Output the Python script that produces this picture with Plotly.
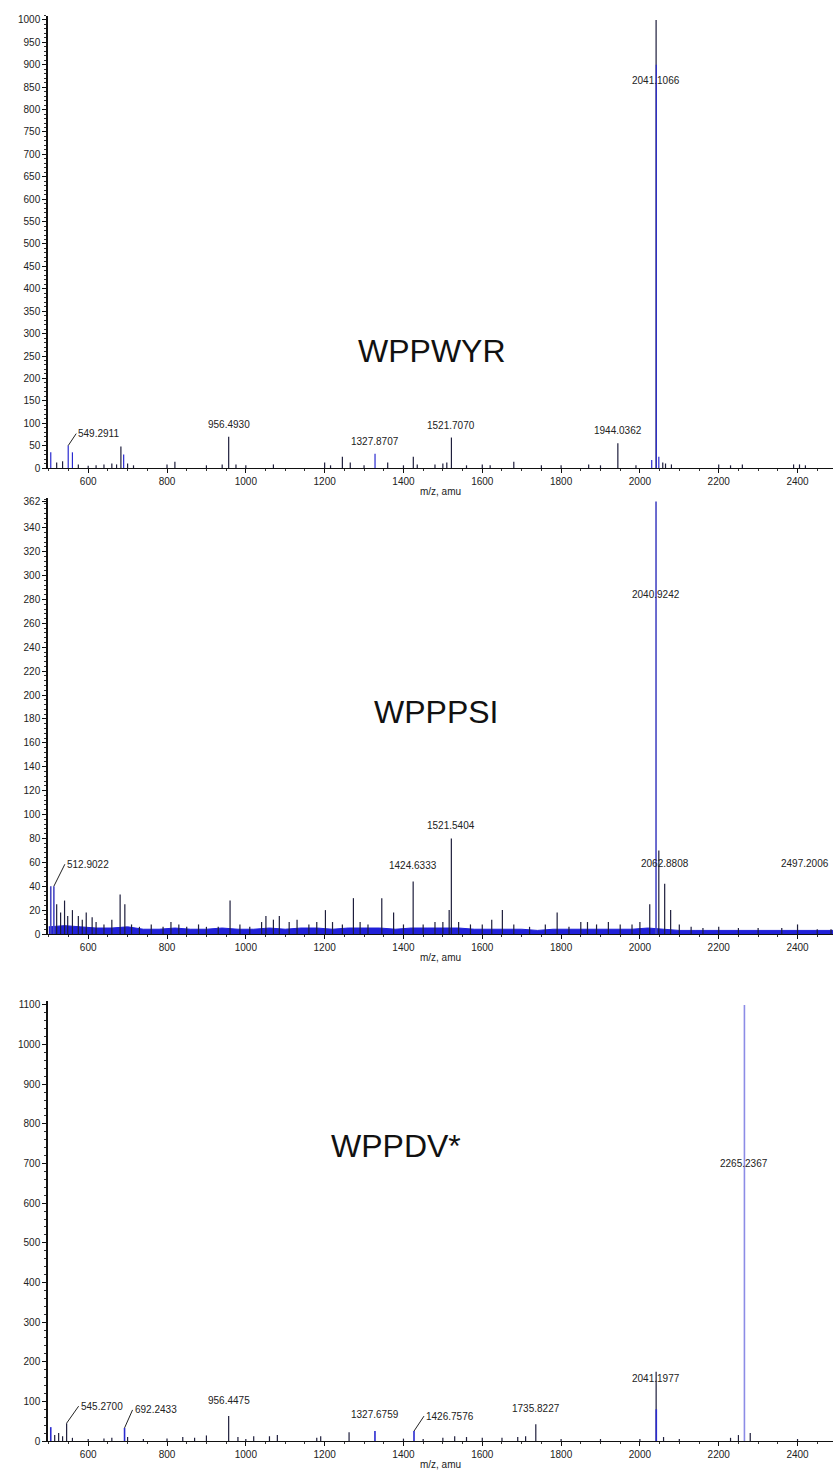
import plotly.graph_objects as go

# ---------------- data ----------------
mz_ticks = [600, 800, 1000, 1200, 1400, 1600, 1800, 2000, 2200, 2400]

# Panel 1 : WPPWYR
p1_mz_dark = [520, 535, 575, 600, 620, 640, 660, 672, 683, 700, 715, 800, 820, 900, 940,
              956.4930, 975, 1000, 1070, 1200, 1215, 1245, 1265, 1300, 1360, 1400, 1425,
              1435, 1480, 1500, 1510, 1521.7070, 1560, 1600, 1620, 1680, 1750, 1800, 1870,
              1900, 1944.0362, 1990, 2041.1066, 2058, 2065, 2080, 2200, 2230, 2260, 2390,
              2405, 2420]
p1_int_dark = [12, 15, 8, 5, 6, 8, 10, 8, 48, 10, 6, 8, 14, 6, 8,
               70, 8, 6, 8, 12, 6, 25, 12, 6, 12, 6, 25,
               8, 8, 10, 12, 68, 6, 8, 6, 14, 6, 6, 8,
               6, 55, 6, 1000, 12, 10, 8, 8, 6, 8, 8,
               8, 6]
p1_mz_blue = [505, 549.2911, 560, 690, 1327.8707, 2030, 2041.6, 2048]
p1_int_blue = [35, 50, 35, 30, 32, 18, 900, 25]

# Panel 2 : WPPPSI
p2_mz_dark = [520, 530, 540, 548, 560, 575, 585, 595, 610, 620, 640, 660, 681, 693, 710,
              730, 760, 790, 810, 830, 850, 880, 900, 930, 960, 985, 1010, 1040, 1051,
              1070, 1085, 1110, 1130, 1160, 1180, 1202, 1220, 1245, 1273, 1290, 1310,
              1345, 1375, 1400, 1424.6333, 1450, 1480, 1500, 1516, 1521.5404, 1540, 1570,
              1600, 1624, 1651, 1680, 1720, 1760, 1790, 1820, 1850, 1867, 1890, 1920,
              1950, 1980, 2000, 2025, 2048, 2062.8808, 2078, 2100, 2130, 2160, 2200,
              2250, 2300, 2360, 2400, 2450, 2485]
p2_int_dark = [25, 18, 28, 15, 20, 15, 12, 18, 14, 10, 8, 12, 33, 25, 8,
               6, 8, 6, 10, 8, 6, 8, 6, 6, 28, 8, 6, 10, 15,
               12, 15, 10, 12, 8, 10, 20, 10, 8, 30, 10, 8,
               30, 18, 8, 44, 8, 10, 10, 20, 80, 10, 8,
               8, 12, 20, 8, 6, 8, 18, 6, 10, 10, 8, 10,
               8, 8, 10, 25, 70, 42, 20, 8, 6, 5, 6,
               5, 5, 5, 8, 4, 4]
p2_mz_blue = [505, 512.9022, 2040.9242]
p2_int_blue = [40, 40, 362]
p2_noise_mz = [500, 540, 580, 620, 660, 700, 740, 780, 820, 860, 900, 940, 980, 1020,
               1060, 1100, 1140, 1180, 1220, 1260, 1300, 1340, 1380, 1420, 1460, 1500,
               1540, 1580, 1620, 1660, 1700, 1740, 1780, 1820, 1860, 1900, 1940, 1980,
               2020, 2060, 2100, 2140, 2180, 2220, 2260, 2300, 2340, 2380, 2420, 2460, 2490]
p2_noise_int = [6, 7, 6, 5, 5, 6, 4, 4, 5, 4, 4, 5, 4, 4,
                5, 4, 5, 5, 4, 5, 5, 5, 4, 5, 5, 5,
                5, 4, 4, 4, 4, 3, 4, 4, 4, 4, 4, 4,
                5, 4, 3, 3, 3, 3, 3, 3, 3, 3, 3, 3, 3]

# Panel 3 : WPPDV*
p3_mz_dark = [515, 525, 535, 545.2700, 560, 600, 640, 660, 700, 740, 800, 840, 870, 900,
              956.4475, 980, 1000, 1020, 1060, 1080, 1180, 1190, 1262, 1400, 1450, 1500,
              1530, 1560, 1600, 1650, 1690, 1710, 1735.8227, 1800, 1900, 2000, 2041.1977,
              2060, 2100, 2230, 2250, 2280, 2400]
p3_int_dark = [15, 20, 12, 45, 8, 5, 6, 8, 10, 5, 6, 10, 8, 14,
               63, 10, 5, 12, 12, 15, 8, 12, 22, 6, 5, 8,
               12, 10, 8, 8, 10, 12, 42, 5, 5, 5, 175,
               10, 5, 8, 15, 20, 5]
p3_mz_blue = [505, 692.2433, 1327.6759, 1426.7576, 2041.6]
p3_int_blue = [35, 33, 25, 25, 80]
p3_mz_light = [2265.2367]
p3_int_light = [1100]


def sticks(mz, inten):
    xs, ys = [], []
    for m, v in zip(mz, inten):
        xs += [m, m, None]
        ys += [0, v, None]
    return xs, ys


W, H = 833, 1473
X0 = 48 / W
FONT = "Liberation Sans, Arial, sans-serif"

fig = go.Figure()

def add_sticks(mz, inten, color, xa, ya, width=1.2):
    xs, ys = sticks(mz, inten)
    fig.add_trace(go.Scatter(x=xs, y=ys, mode="lines", xaxis=xa, yaxis=ya,
                             line=dict(color=color, width=width), hoverinfo="skip",
                             showlegend=False))

DARK = "#1e1e3c"
BLUE = "#2a2ad0"

# panel 1
add_sticks(p1_mz_dark, p1_int_dark, DARK, "x", "y")
add_sticks(p1_mz_blue, p1_int_blue, BLUE, "x", "y")
# panel 2
fig.add_trace(go.Scatter(x=p2_noise_mz, y=p2_noise_int, mode="lines", fill="tozeroy",
                         xaxis="x2", yaxis="y2", line=dict(color="#2020d8", width=1),
                         fillcolor="#2020d8", hoverinfo="skip", showlegend=False))
add_sticks(p2_mz_dark, p2_int_dark, DARK, "x2", "y2")
add_sticks(p2_mz_blue, p2_int_blue, "#4848c4", "x2", "y2", 1.6)
# panel 3
add_sticks(p3_mz_dark, p3_int_dark, DARK, "x3", "y3")
add_sticks(p3_mz_blue, p3_int_blue, BLUE, "x3", "y3", 1.6)
add_sticks(p3_mz_light, p3_int_light, "#8c8ce6", "x3", "y3", 1.6)

def fy(px):
    return 1 - px / H

panels = [
    # (top px, bottom px, yrange, tickvals, minor dtick)
    (15.5, 468, [0, 1010], list(range(0, 1001, 50)), 10),
    (498, 934, [0, 365], list(range(0, 341, 20)) + [362], 4),
    (1001, 1441, [0, 1110], list(range(0, 1101, 100)), 20),
]

xr = [498, 2490]
layout = dict(width=W, height=H, margin=dict(l=0, r=0, t=0, b=0),
              paper_bgcolor="white", plot_bgcolor="white",
              font=dict(family=FONT, size=10, color="#222"))

for i, (top, bot, yr, tv, mdt) in enumerate(panels):
    sx = "" if i == 0 else str(i + 1)
    layout["xaxis" + sx] = dict(
        domain=[X0, 1], range=xr, anchor="y" + sx, showgrid=False, zeroline=False,
        showline=True, linecolor="#111", linewidth=1.2, ticks="outside", ticklen=4,
        tickcolor="#111", tickvals=mz_ticks, ticktext=[str(t) for t in mz_ticks],
        tickfont=dict(size=10, color="#222"),
        minor=dict(ticks="outside", ticklen=2, dtick=50, tick0=0, tickcolor="#333"),
        title=dict(text="m/z, amu", font=dict(size=10, color="#222"), standoff=1),
        automargin=False)
    layout["yaxis" + sx] = dict(
        domain=[fy(bot), fy(top)], range=yr, anchor="x" + sx, showgrid=False,
        zeroline=False, showline=True, linecolor="#111", linewidth=1.5,
        ticks="outside", ticklen=4, tickcolor="#111", tickvals=tv,
        ticktext=[str(t) for t in tv], tickfont=dict(size=10, color="#222"),
        minor=dict(ticks="outside", ticklen=2, dtick=mdt, tickcolor="#333"),
        automargin=False)

fig.update_layout(**layout)

ann = []
def label(text, x, y, xr_, yr_, **kw):
    d = dict(text=text, x=x, y=y, xref=xr_, yref=yr_, showarrow=False,
             font=dict(family=FONT, size=10, color="#222"), yanchor="bottom")
    d.update(kw)
    ann.append(d)

def leader(text, x, y, xr_, yr_, ax, ay):
    ann.append(dict(text=text, x=x, y=y, xref=xr_, yref=yr_, showarrow=True,
                    arrowhead=0, arrowwidth=1, arrowcolor="#222", ax=ax, ay=ay,
                    xanchor="left", yanchor="middle",
                    font=dict(family=FONT, size=10, color="#222")))

BIG = dict(family=FONT, size=32, color="#111")

# panel 1 labels
label("2041.1066", 2041.1066, 864, "x", "y", yanchor="middle")
leader("549.2911", 549.2911, 50, "x", "y", 8, -12)
label("956.4930", 956.4930, 72, "x", "y", yshift=4)
label("1327.8707", 1327.8707, 34, "x", "y", yshift=4)
label("1521.7070", 1521.7070, 70, "x", "y", yshift=4)
label("1944.0362", 1944.0362, 57, "x", "y", yshift=4)
ann.append(dict(text="WPPWYR", x=1472, y=262, xref="x", yref="y", showarrow=False,
                font=BIG))

# panel 2 labels
label("2040.9242", 2040.9242, 284, "x2", "y2", yanchor="middle")
leader("512.9022", 512.9022, 40, "x2", "y2", 11, -22)
label("1424.6333", 1424.6333, 57, "x2", "y2", yanchor="middle")
label("1521.5404", 1521.5404, 91, "x2", "y2", yanchor="middle")
label("2062.8808", 2062.8808, 59, "x2", "y2", yanchor="middle")
label("2497.2006", 0.998, 59, "paper", "y2", yanchor="middle", xanchor="right")
ann.append(dict(text="WPPPSI", x=1482, y=186, xref="x2", yref="y2", showarrow=False,
                font=BIG))

# panel 3 labels
label("2265.2367", 2265.2367, 700, "x3", "y3", yanchor="middle")
label("2041.1977", 2041.1977, 157, "x3", "y3", yanchor="middle")
leader("545.2700", 545.2700, 45, "x3", "y3", 12, -17)
leader("692.2433", 692.2433, 33, "x3", "y3", 8, -18)
label("956.4475", 956.4475, 66, "x3", "y3", yshift=7)
label("1327.6759", 1327.6759, 28, "x3", "y3", yshift=8)
leader("1426.7576", 1426.7576, 25, "x3", "y3", 10, -15)
label("1735.8227", 1735.8227, 45, "x3", "y3", yshift=7)
ann.append(dict(text="WPPDV*", x=1381, y=745, xref="x3", yref="y3", showarrow=False,
                font=BIG))

fig.update_layout(annotations=ann)
fig.write_html(
    "out.html",
    config={"displayModeBar": False},
    post_script="document.body.style.margin='0';document.body.style.overflow='hidden';"
                "document.documentElement.style.overflow='hidden';",
)
